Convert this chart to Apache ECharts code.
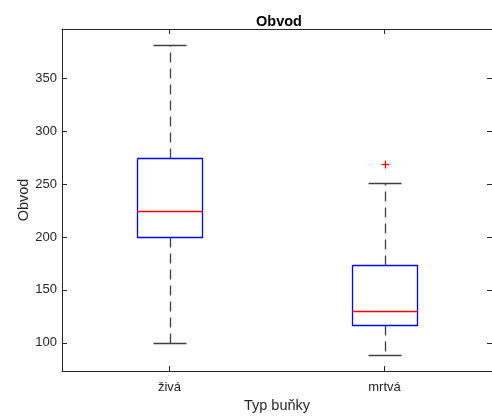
<!DOCTYPE html>
<html>
<head>
<meta charset="utf-8">
<script src="https://cdn.jsdelivr.net/npm/echarts@6/dist/echarts.min.js"></script>
<style>
  html, body { margin: 0; padding: 0; background: #fff; }
  #chart { width: 492px; height: 420px; }
</style>
</head>
<body>
<div id="chart"></div>
<script>
// Circumference (Obvod) by cell type — box statistics per group
var categories = ['živá', 'mrtvá'];
var lowerWhisker = [100, 88];
var q1 = [200, 117];
var median = [225, 130];
var q3 = [275, 174];
var upperWhisker = [382, 251];
// outliers as [categoryIndex, value]
var outliers = [[1, 269]];
var yTicks = [100, 150, 200, 250, 300, 350];
var yMin = 73.3;
var yMax = 396.7;

var FONT = '"Liberation Sans", Arial, Helvetica, sans-serif';
var AXIS_COLOR = '#262626';
var BOX_COLOR = '#0000ff';
var MEDIAN_COLOR = '#ff0000';
var WHISKER_COLOR = '#404040';
var LINE_W = 1.3;

var boxData = categories.map(function (c, i) {
  return [i, lowerWhisker[i], q1[i], median[i], q3[i], upperWhisker[i]];
});

function px(v) { return Math.round(v) + 0.5; }

function boxGeom(api) {
  var idx = api.value(0);
  var catW = api.size([1, 0])[0];
  return {
    cx: api.coord([idx, 0])[0],
    halfBox: catW * 0.15,
    halfCap: catW * 0.075,
    yLo: api.coord([idx, api.value(1)])[1],
    yQ1: api.coord([idx, api.value(2)])[1],
    yMed: api.coord([idx, api.value(3)])[1],
    yQ3: api.coord([idx, api.value(4)])[1],
    yHi: api.coord([idx, api.value(5)])[1]
  };
}

// dashed whiskers with end caps
function renderWhiskers(params, api) {
  var g = boxGeom(api);
  var x = px(g.cx);
  var dash = { stroke: WHISKER_COLOR, lineWidth: LINE_W, lineDash: [10, 6] };
  var solid = { stroke: WHISKER_COLOR, lineWidth: LINE_W };
  return {
    type: 'group',
    children: [
      { type: 'line', shape: { x1: x, y1: px(g.yQ3), x2: x, y2: px(g.yHi) }, style: dash },
      { type: 'line', shape: { x1: x, y1: px(g.yQ1), x2: x, y2: px(g.yLo) }, style: dash },
      { type: 'line', shape: { x1: px(g.cx - g.halfCap), y1: px(g.yHi), x2: px(g.cx + g.halfCap), y2: px(g.yHi) }, style: solid },
      { type: 'line', shape: { x1: px(g.cx - g.halfCap), y1: px(g.yLo), x2: px(g.cx + g.halfCap), y2: px(g.yLo) }, style: solid }
    ]
  };
}

// interquartile box outline
function renderBox(params, api) {
  var g = boxGeom(api);
  var x0 = px(g.cx - g.halfBox), x1 = px(g.cx + g.halfBox);
  var yT = px(g.yQ3), yB = px(g.yQ1);
  return {
    type: 'polyline',
    shape: { points: [[x0, yT], [x1, yT], [x1, yB], [x0, yB], [x0, yT]] },
    style: { stroke: BOX_COLOR, lineWidth: LINE_W, fill: 'none' }
  };
}

// median line
function renderMedian(params, api) {
  var g = boxGeom(api);
  return {
    type: 'line',
    shape: { x1: px(g.cx - g.halfBox), y1: px(g.yMed), x2: px(g.cx + g.halfBox), y2: px(g.yMed) },
    style: { stroke: MEDIAN_COLOR, lineWidth: LINE_W }
  };
}

function renderOutlier(params, api) {
  var p = api.coord([api.value(0), api.value(1)]);
  var r = 4;
  var x = px(p[0]), y = px(p[1]);
  var st = { stroke: MEDIAN_COLOR, lineWidth: LINE_W };
  return {
    type: 'group',
    children: [
      { type: 'line', shape: { x1: x - r, y1: y, x2: x + r, y2: y }, style: st },
      { type: 'line', shape: { x1: x, y1: y - r, x2: x, y2: y + r }, style: st }
    ]
  };
}

var chart = echarts.init(document.getElementById('chart'), null, { renderer: 'canvas' });

var catAxisBase = {
  type: 'category',
  data: categories,
  boundaryGap: true,
  axisLine: { show: true, lineStyle: { color: AXIS_COLOR, width: 1 } },
  axisTick: { show: true, inside: true, length: 5, alignWithLabel: true, lineStyle: { color: AXIS_COLOR } },
  splitLine: { show: false }
};

var valAxisBase = {
  type: 'value',
  min: yMin,
  max: yMax,
  axisLine: { show: true, lineStyle: { color: AXIS_COLOR, width: 1 } },
  axisTick: { show: true, inside: true, length: 5, customValues: yTicks, lineStyle: { color: AXIS_COLOR } },
  splitLine: { show: false }
};

var boxSeriesBase = {
  type: 'custom',
  xAxisIndex: 0,
  yAxisIndex: 0,
  data: boxData,
  encode: { x: 0, y: [1, 2, 3, 4, 5] },
  clip: false
};

chart.setOption({
  animation: false,
  backgroundColor: '#ffffff',
  title: {
    text: 'Obvod',
    left: 274,
    top: 9,
    textAlign: 'center',
    textStyle: { fontFamily: FONT, fontSize: 14.5, fontWeight: 'bold', color: '#000000' }
  },
  grid: { left: 62, top: 29, width: 434, height: 342 },
  xAxis: [
    Object.assign({}, catAxisBase, {
      position: 'bottom',
      name: 'Typ buňky',
      nameLocation: 'middle',
      nameGap: 22,
      nameTextStyle: { fontFamily: FONT, fontSize: 14.5, color: AXIS_COLOR },
      axisLabel: { show: true, margin: 10, fontFamily: FONT, fontSize: 13, color: AXIS_COLOR }
    }),
    Object.assign({}, catAxisBase, {
      position: 'top',
      axisLabel: { show: false }
    })
  ],
  yAxis: [
    Object.assign({}, valAxisBase, {
      position: 'left',
      name: 'Obvod',
      nameLocation: 'middle',
      nameGap: 31,
      nameMoveOverlap: false,
      nameTextStyle: { fontFamily: FONT, fontSize: 14.5, color: AXIS_COLOR },
      axisLabel: { show: true, margin: 5, customValues: yTicks, fontFamily: FONT, fontSize: 13, color: AXIS_COLOR }
    }),
    Object.assign({}, valAxisBase, {
      position: 'right',
      axisLabel: { show: false }
    })
  ],
  series: [
    Object.assign({}, boxSeriesBase, { renderItem: renderWhiskers, itemStyle: { color: WHISKER_COLOR } }),
    Object.assign({}, boxSeriesBase, { renderItem: renderBox, itemStyle: { color: BOX_COLOR } }),
    Object.assign({}, boxSeriesBase, { renderItem: renderMedian, itemStyle: { color: MEDIAN_COLOR } }),
    {
      type: 'custom',
      xAxisIndex: 0,
      yAxisIndex: 0,
      renderItem: renderOutlier,
      data: outliers,
      encode: { x: 0, y: 1 },
      itemStyle: { color: MEDIAN_COLOR }
    }
  ]
});
</script>
</body>
</html>
